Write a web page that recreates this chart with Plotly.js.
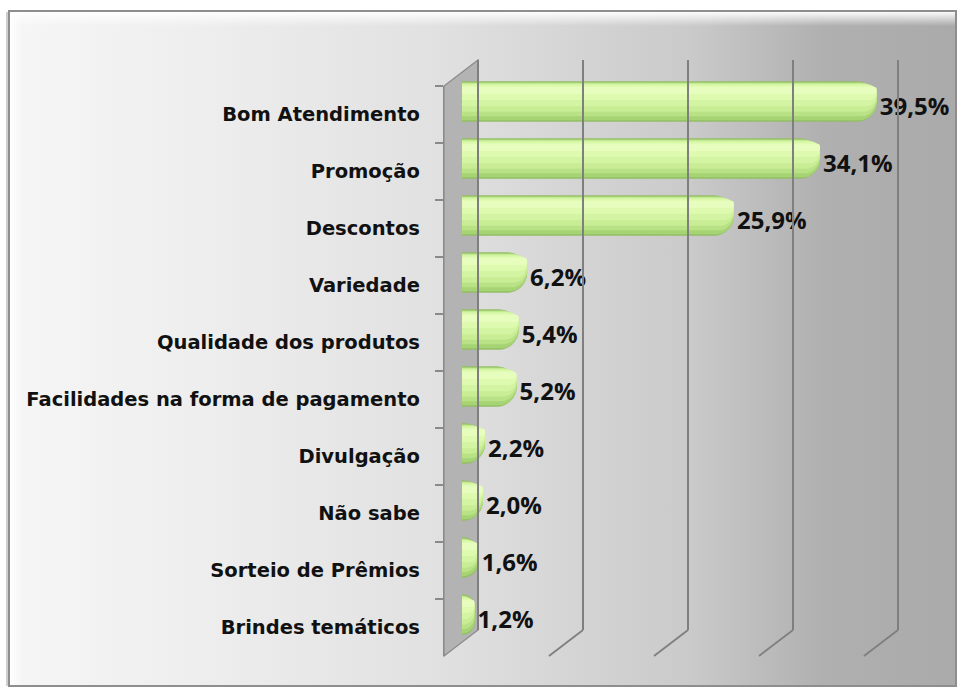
<!DOCTYPE html>
<html>
<head>
<meta charset="utf-8">
<script src="https://cdn.plot.ly/plotly-3.0.1.min.js"></script>
<style>html,body{margin:0;padding:0;background:#fff;}#chart{width:961px;height:690px;}</style>
</head>
<body>
<div id="chart"></div>
<script>
// ---- data ----
const categories = [
  "Bom Atendimento",
  "Promoção",
  "Descontos",
  "Variedade",
  "Qualidade dos produtos",
  "Facilidades na forma de pagamento",
  "Divulgação",
  "Não sabe",
  "Sorteio de Prêmios",
  "Brindes temáticos"
];
const values = [39.5, 34.1, 25.9, 6.2, 5.4, 5.2, 2.2, 2.0, 1.6, 1.2];
const gridTicks = [0, 10, 20, 30, 40];
const valueLabels = values.map(v => v.toFixed(1).replace('.', ',') + '%');

// ---- geometry (pixels) ----
const W = 961, H = 690;
const px = x => x / W;
const py = y => 1 - y / H;
const depthX = 34, depthY = 26;          // 3D depth offset
const wallFront = 444, wallBack = wallFront + depthX;
const frontTop = 86, frontBottom = 656;
const backTop = frontTop - depthY, backBottom = frontBottom - depthY;
const unitPx = 10.5;                      // pixels per percentage point
const barZero = 462, plotRight = 950;
const barTop = 73, barBottom = 643;
const textShift = 4;

const FONT = '"DejaVu Sans", "Open Sans", sans-serif';
const VFONT = '"Open Sans", "DejaVu Sans", sans-serif';

// cylinder shading layers: [width, offset, color, cornerradius]
const shading = [
  [0.71, null,  '#93bf64', 20],
  [0.665, -0.335, '#a6d374', 19],
  [0.59, -0.33, '#b9e185', 17],
  [0.50, -0.32, '#c8ed95', 15],
  [0.39, -0.305, '#d3f4a2', 12],
  [0.26, -0.285, '#ddfaae', 9],
  [0.13, -0.26, '#e6fdbd', 5]
];

const common = {
  type: 'bar', orientation: 'h', y: categories, x: values,
  xaxis: 'x', yaxis: 'y', hoverinfo: 'skip', textposition: 'none'
};

const traces = shading.map((s, i) => {
  const t = Object.assign({}, common, {
    name: 'shade' + i, width: s[0],
    marker: {color: s[2], cornerradius: s[3], line: {width: 0}}
  });
  if (s[1] !== null) t.offset = s[1];
  return t;
});

traces.push(
  // value labels (slightly lower, like the 3D front projection)
  Object.assign({}, common, {
    name: 'labels', yaxis: 'y4', width: 0.71,
    marker: {color: 'rgba(0,0,0,0)', cornerradius: 20, line: {width: 0}},
    text: valueLabels, textposition: 'outside', cliponaxis: false,
    textfont: {family: VFONT, size: 24, color: '#111', weight: 'bold'}
  }),
  // invisible trace for the back-wall grid subplot
  {type: 'scatter', mode: 'markers', x: values, y: categories, xaxis: 'x2', yaxis: 'y2',
   marker: {opacity: 0}, hoverinfo: 'skip', showlegend: false},
  // invisible trace for the front category axis
  {type: 'scatter', mode: 'markers', x: values, y: categories, xaxis: 'x3', yaxis: 'y3',
   marker: {opacity: 0}, hoverinfo: 'skip', showlegend: false}
);

// background frame with gradient as SVG image
const svg = `<svg xmlns='http://www.w3.org/2000/svg' width='${W}' height='${H}' viewBox='0 0 ${W} ${H}' preserveAspectRatio='none'>
<defs>
<linearGradient id='g' x1='0' x2='1' y1='0' y2='0'>
<stop offset='0' stop-color='#f6f6f6'/>
<stop offset='0.2' stop-color='#eeeeee'/>
<stop offset='0.45' stop-color='#e1e1e1'/>
<stop offset='0.72' stop-color='#cacaca'/>
<stop offset='0.86' stop-color='#b0b0b0'/>
<stop offset='1' stop-color='#aaaaaa'/>
</linearGradient>
<linearGradient id='t' x1='0' x2='0' y1='0' y2='1'>
<stop offset='0' stop-color='#ffffff' stop-opacity='0.95'/>
<stop offset='1' stop-color='#ffffff' stop-opacity='0'/>
</linearGradient>
<linearGradient id='l' x1='0' x2='1' y1='0' y2='0'>
<stop offset='0' stop-color='#ffffff' stop-opacity='0.9'/>
<stop offset='1' stop-color='#ffffff' stop-opacity='0'/>
</linearGradient>
</defs>
<rect x='9' y='11' width='947' height='675' fill='url(#g)'/>
<rect x='10' y='12' width='945' height='14' fill='url(#t)'/>
<rect x='10' y='12' width='12' height='673' fill='url(#l)'/>
<rect x='9' y='11' width='947' height='675' fill='none' stroke='#8e8e8e' stroke-width='2'/>
<line x1='7' y1='12' x2='7' y2='686' stroke='#cfcfcf' stroke-width='2'/>
</svg>`;
const svgUri = 'data:image/svg+xml;charset=utf-8,' + encodeURIComponent(svg);

const shapes = [];
// left side wall
shapes.push({
  type: 'path', xref: 'paper', yref: 'paper', layer: 'below',
  path: `M ${px(wallFront)} ${py(frontTop)} L ${px(wallBack)} ${py(backTop)} L ${px(wallBack)} ${py(backBottom)} L ${px(wallFront)} ${py(frontBottom)} Z`,
  fillcolor: '#b3b3b3', line: {color: '#8a8a8a', width: 1.2}
});
// floor diagonals at each grid value
gridTicks.slice(1).forEach(t => {
  shapes.push({
    type: 'line', layer: 'below',
    xref: 'x2', xsizemode: 'pixel', xanchor: t, x0: 0, x1: -depthX,
    yref: 'paper', ysizemode: 'pixel', yanchor: py(backBottom), y0: 0, y1: -depthY,
    line: {color: '#7f7f7f', width: 1.8}
  });
});

const gridPad = 1; // units of padding so edge gridlines are drawn
const layout = {
  width: W, height: H,
  margin: {l: 0, r: 0, t: 0, b: 0},
  paper_bgcolor: '#ffffff',
  plot_bgcolor: 'rgba(0,0,0,0)',
  showlegend: false,
  barmode: 'overlay',
  images: [{source: svgUri, xref: 'paper', yref: 'paper', x: 0, y: 1, sizex: 1, sizey: 1,
            sizing: 'stretch', xanchor: 'left', yanchor: 'top', layer: 'below'}],
  xaxis: {domain: [px(barZero), px(plotRight)], range: [0, (plotRight - barZero) / unitPx],
          visible: false, fixedrange: true},
  yaxis: {domain: [py(barBottom), py(barTop)], type: 'category', categoryarray: categories,
          range: [categories.length - 0.5, -0.5], visible: false, fixedrange: true},
  yaxis4: {domain: [py(barBottom + textShift), py(barTop + textShift)], anchor: 'x', type: 'category',
          categoryarray: categories, range: [categories.length - 0.5, -0.5], visible: false, fixedrange: true},
  xaxis2: {domain: [px(wallBack - gridPad * unitPx), px(wallBack + (40 + gridPad) * unitPx)],
           range: [-gridPad, 40 + gridPad], anchor: 'y2',
           tickvals: gridTicks, showticklabels: false, ticks: '', showgrid: true,
           gridcolor: '#7f7f7f', gridwidth: 1.8, zeroline: false, showline: false, fixedrange: true},
  yaxis2: {domain: [py(backBottom), py(backTop)], anchor: 'x2', visible: false, type: 'category', fixedrange: true},
  xaxis3: {domain: [px(wallFront), px(plotRight)], anchor: 'y3', visible: false, fixedrange: true},
  yaxis3: {domain: [py(frontBottom), py(frontTop)], anchor: 'x3', type: 'category',
           categoryarray: categories, range: [categories.length - 0.5, -0.5],
           showline: true, linecolor: '#8a8a8a', linewidth: 1.2,
           ticks: 'outside', ticklen: 8, tickcolor: '#8a8a8a', tickwidth: 1.2,
           tickson: 'boundaries', showgrid: false, zeroline: false,
           ticklabelstandoff: 19,
           tickfont: {family: FONT, size: 19.5, color: '#111', weight: 'bold'},
           fixedrange: true},
  shapes: shapes
};

Plotly.newPlot('chart', traces, layout, {displayModeBar: false, staticPlot: true});
</script>
</body>
</html>
